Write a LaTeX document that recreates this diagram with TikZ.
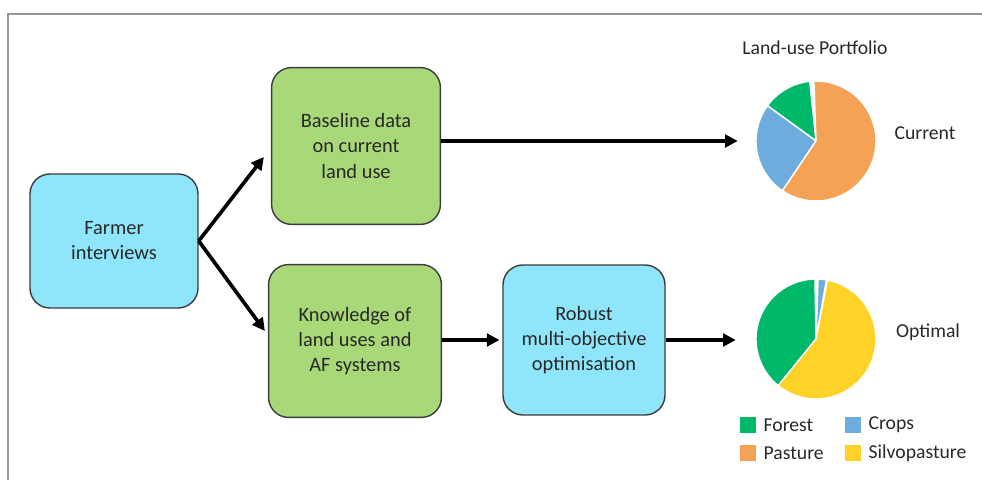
\documentclass[tikz,border=0pt]{standalone}
\usepackage{fontspec}
\setmainfont{Carlito}
\usetikzlibrary{arrows.meta,positioning}
\definecolor{boxGreen}{RGB}{168,216,120}
\definecolor{boxCyan}{RGB}{143,229,250}
\definecolor{boxEdge}{RGB}{60,60,60}
\definecolor{txtGray}{RGB}{40,40,40}
\definecolor{frameGray}{RGB}{150,150,150}
\definecolor{pieGreen}{RGB}{0,184,106}
\definecolor{pieBlue}{RGB}{111,172,222}
\definecolor{pieOrange}{RGB}{245,162,87}
\definecolor{pieYellow}{RGB}{255,210,40}

\begin{document}
\begin{tikzpicture}[
  x=0.025cm, y=0.025cm,
  font=\fontsize{14.5}{17.8}\selectfont, text=txtGray,
  box/.style={rounded corners=0.5cm, draw=boxEdge, line width=1pt, align=center, inner sep=4pt},
  greenbox/.style={box, fill=boxGreen},
  cyanbox/.style={box, fill=boxCyan},
  pie/.style={circle, minimum size=3cm, inner sep=0pt},
  slice/.style={draw=white, line width=1pt},
  legbox/.style={minimum width=0.42cm, minimum height=0.4cm, inner sep=0pt},
  label/.style={font=\fontsize{14}{17}\selectfont},
  arrow/.style={-{Triangle[length=9pt,width=9pt]}, line width=2.6pt, draw=black}
]
\useasboundingbox (0,0) rectangle (982,480);
\draw[frameGray, line width=1.5pt] (8,0) -- (8,466) -- (982,466);

\node[cyanbox, minimum width=4.2cm, minimum height=3.35cm] (farmer) at (114,239) {Farmer\\interviews};
\node[greenbox, minimum width=4.22cm, minimum height=3.92cm] (baseline) at (356,334) {Baseline data\\on current\\land use};
\node[greenbox, minimum width=4.32cm, minimum height=3.82cm] (knowledge) at (355,139) {Knowledge of\\land uses and\\AF systems};
\node[cyanbox, minimum width=4.05cm, minimum height=3.75cm] (robust) at (584,140) {Robust\\multi-objective\\optimisation};

\node[pie] (curpie) at (816,339) {};
\node[pie] (optpie) at (816,141) {};

\node[label] (portfolio) at (815,432) {Land-use Portfolio};
\node[label] (current) at (925,347) {Current};
\node[label] (optimal) at (928,148) {Optimal};

\foreach \a/\b/\c in {96/144/pieGreen, 144/236/pieBlue, -124/92/pieOrange}
  \filldraw[slice, fill=\c] (curpie.center) -- ++(\a:60) arc[start angle=\a, end angle=\b, radius=60] -- cycle;
\foreach \a/\b/\c in {91/231/pieGreen, 80/88/pieBlue, -129/79/pieYellow}
  \filldraw[slice, fill=\c] (optpie.center) -- ++(\a:60) arc[start angle=\a, end angle=\b, radius=60] -- cycle;

\node[legbox, fill=pieGreen] (lgforest) at (748,55) {};
\node[label, right=0.05cm of lgforest] {Forest};
\node[legbox, fill=pieBlue] (lgcrops) at (853,55) {};
\node[label, right=0.05cm of lgcrops] {Crops};
\node[legbox, fill=pieOrange] (lgpasture) at (748,27) {};
\node[label, right=0.05cm of lgpasture] {Pasture};
\node[legbox, fill=pieYellow] (lgsilvo) at (853,27) {};
\node[label, right=0.05cm of lgsilvo] {Silvopasture};

\draw[arrow] (farmer.east) -- ([shift={(-7,-11)}]baseline.west);
\draw[arrow] (farmer.east) -- ([shift={(-3,10)}]knowledge.west);
\draw[arrow, shorten >=0.45cm] (baseline.east |- curpie.west) -- (curpie.west);
\draw[arrow, shorten >=2pt] (knowledge.east |- robust.west) -- (robust.west);
\draw[arrow, shorten >=0.5cm] (robust.east) -- (robust.east -| optpie.west);
\end{tikzpicture}
\end{document}
